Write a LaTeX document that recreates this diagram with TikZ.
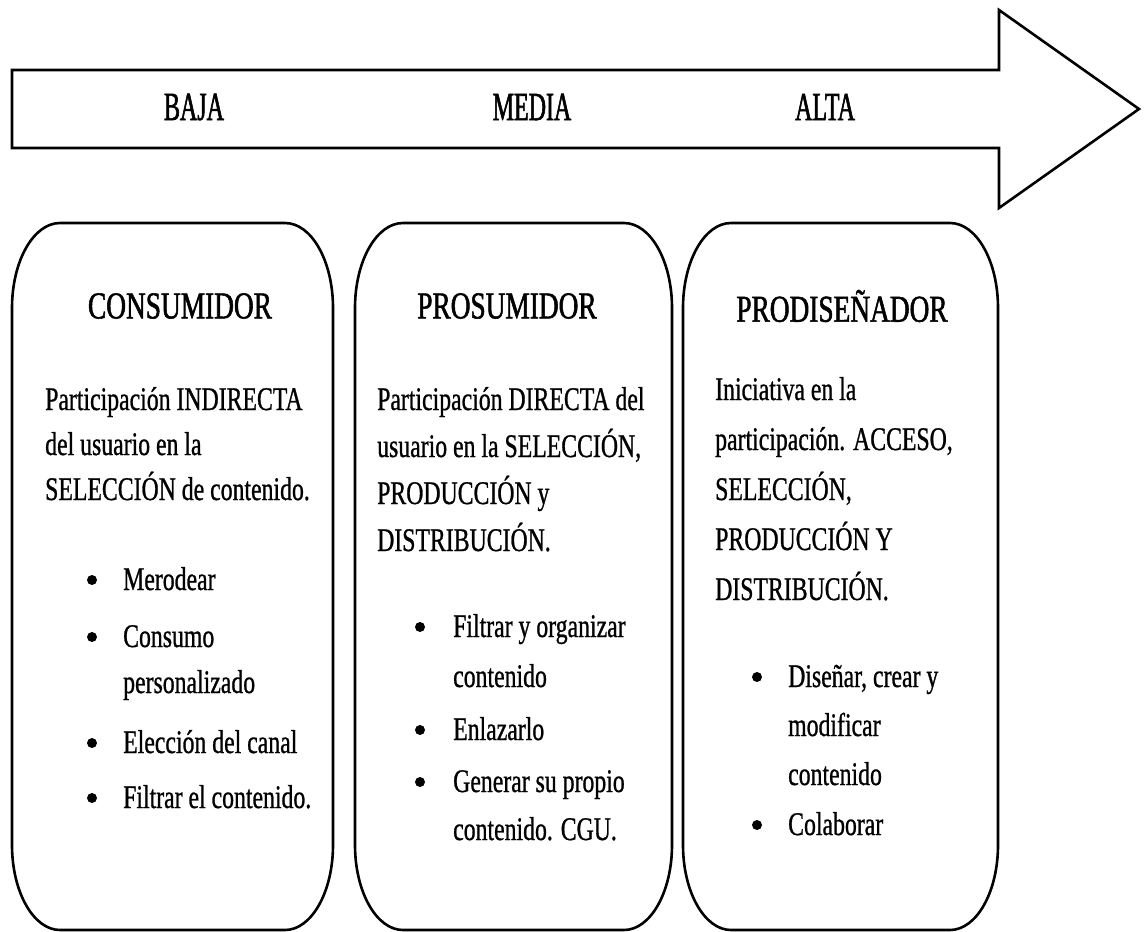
\documentclass[tikz,border=0pt]{standalone}
\usepackage{fontspec}
\setmainfont[FakeStretch=0.72,FakeBold=0.8]{Liberation Serif}
\newfontfamily\headfont[FakeStretch=0.72,FakeBold=1.4]{Liberation Serif}
\newfontfamily\bandfont[FakeStretch=0.6,FakeBold=1.4]{Liberation Serif}

% rounded column frame with elliptical corners: left x, right x, top y, bottom y
\newcommand\colframe[4]{%
  \draw[outline] (#1,{-#3-85}) arc[start angle=180,end angle=90,x radius=48,y radius=85]
    -- ({#2-48},-#3) arc[start angle=90,end angle=0,x radius=48,y radius=85]
    -- (#2,{-#4+85}) arc[start angle=0,end angle=-90,x radius=48,y radius=85]
    -- ({#1+48},-#4) arc[start angle=-90,end angle=-180,x radius=48,y radius=85]
    -- cycle;}

\begin{document}
\begin{tikzpicture}[x=1pt,y=1pt,
  outline/.style={line width=2.6pt, draw=black},
  band/.style={font=\bandfont\fontsize{40}{40}\selectfont, inner sep=0pt},
  title/.style={font=\headfont\fontsize{38}{38}\selectfont, inner sep=0pt},
  % multi-line text: the node is placed at the baseline of its last line
  para/.style={align=left, anchor=base west, inner sep=0pt, font=\fontsize{33}{#1}\selectfont},
  para/.default=47,
  dot/.style={circle, fill=black, inner sep=0pt, minimum size=10pt}]
\useasboundingbox (0,0) rectangle (1144,-932);
\fill[white] (0,0) rectangle (1144,-932);

% the level arrow
\draw[outline, line join=miter] (12,-70) -- (999,-70) -- (999,-10) -- (1139,-109)
  -- (999,-208) -- (999,-148) -- (12,-148) -- cycle;
\node[band] (baja)  at (194,-107) {BAJA};
\node[band] (media) at (532,-107) {MEDIA};
\node[band] (alta)  at (825,-107) {ALTA};

% the three columns
\colframe{12}{333}{223}{930}
\colframe{355}{672}{223}{930}
\colframe{683}{998}{223}{930}

% column 1
\node[title] (t1) at (180,-306) {CONSUMIDOR};
\node[para=45] (p1) at (45,-500) {Participación INDIRECTA\\del usuario en la\\SELECCIÓN de contenido.};
\node[para] (a1) at (123,-590) {Merodear};
\node[para=46] (a2) at (123,-693) {Consumo\\personalizado};
\node[para] (a3) at (123,-753) {Elección del canal};
\node[para] (a4) at (123,-808) {Filtrar el contenido.};
\foreach \y in {590,647,753,808} \node[dot] at (92,{-\y+10}) {};

% column 2
\node[title] (t2) at (507,-306) {PROSUMIDOR};
\node[para=47] (p2) at (377,-551) {Participación DIRECTA del\\usuario en la SELECCIÓN,\\PRODUCCIÓN y\\DISTRIBUCIÓN.};
\node[para=50] (b1) at (453,-687) {Filtrar y organizar\\contenido};
\node[para] (b2) at (453,-740) {Enlazarlo};
\node[para=48] (b3) at (453,-840) {Generar su propio\\contenido. CGU.};
\foreach \y in {637,740,792} \node[dot] at (420,{-\y+10}) {};

% column 3
\node[title] (t3) at (842,-306) {PRODISEÑADOR};
\node[para=50] (p3) at (715,-600) {Iniciativa en la\\participación. ACCESO,\\SELECCIÓN,\\PRODUCCIÓN Y\\DISTRIBUCIÓN.};
\node[para=49] (c1) at (788,-785) {Diseñar, crear y\\modificar\\contenido};
\node[para] (c2) at (788,-835) {Colaborar};
\foreach \y in {687,835} \node[dot] at (757,{-\y+10}) {};
\end{tikzpicture}
\end{document}
